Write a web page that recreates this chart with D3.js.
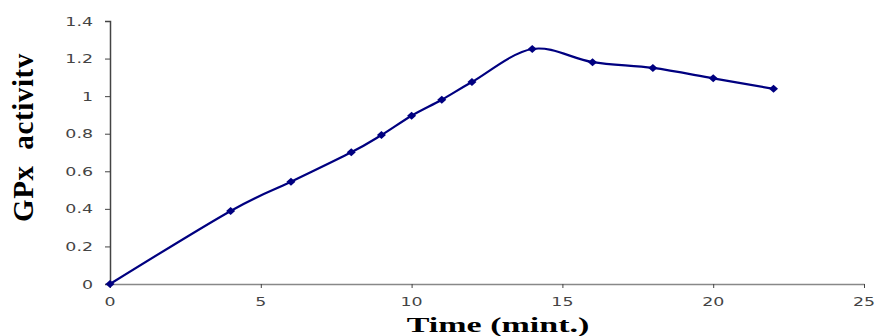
<!DOCTYPE html>
<html><head><meta charset="utf-8">
<script src="https://cdn.jsdelivr.net/npm/d3@7"></script>
<style>body{margin:0;background:#fff}svg{display:block}</style>
</head><body>
<svg id="c" width="876" height="336"></svg>
<script>
const times = [0, 4, 6, 8, 9, 10, 11, 12, 14, 16, 18, 20, 22];
const activity = [0, 0.389, 0.544, 0.701, 0.793, 0.896, 0.981, 1.075, 1.251, 1.181, 1.150, 1.095, 1.039];
const xTicks = [0, 5, 10, 15, 20, 25];
const yTicks = [0, 0.2, 0.4, 0.6, 0.8, 1, 1.2, 1.4];
const xTitle = "Time (mint.)";
const yTitle = "GPx  activitv";

const svg = d3.select("#c");
const x = d3.scaleLinear().domain([0, 25]).range([110, 864]);
const y = d3.scaleLinear().domain([0, 1.4]).range([284, 21]);

// y axis
const ya = svg.append("g").attr("transform", "translate(110,0)")
  .call(d3.axisLeft(y).tickValues(yTicks).tickSize(5).tickFormat(""));
ya.select(".domain").attr("stroke", "#444").attr("stroke-width", 1.5);
ya.selectAll(".tick line").attr("stroke", "#444");
// x axis
const xa = svg.append("g").attr("transform", "translate(0,284)")
  .call(d3.axisBottom(x).tickValues(xTicks).tickSize(4).tickSizeOuter(0).tickFormat(""));
xa.select(".domain").attr("stroke", "#888").attr("stroke-width", 1.5);
xa.selectAll(".tick line").attr("stroke", "#444");

// tick labels (wide face)
svg.append("g").selectAll("text").data(yTicks).join("text")
  .attr("transform", d => `translate(93,${y(d) + 4.5}) scale(1.45,1)`)
  .attr("text-anchor", "end")
  .attr("font-family", "DejaVu Sans").attr("font-size", 12).attr("fill", "#444")
  .text(d => d3.format("")(+d.toFixed(1)));
svg.append("g").selectAll("text").data(xTicks).join("text")
  .attr("transform", d => `translate(${x(d)},306) scale(1.45,1)`)
  .attr("text-anchor", "middle")
  .attr("font-family", "DejaVu Sans").attr("font-size", 12).attr("fill", "#444")
  .text(d => d);

// line
const data = times.map((t, i) => [t, activity[i]]);
svg.append("path").datum(data)
  .attr("fill", "none").attr("stroke", "#000080").attr("stroke-width", 2.2)
  .attr("d", d3.line().x(d => x(d[0])).y(d => y(d[1])).curve(d3.curveCatmullRom.alpha(0)));

svg.append("g").selectAll("path").data(data).join("path")
  .attr("transform", d => `translate(${x(d[0])},${y(d[1])})`)
  .attr("d", "M0,-4L4.5,0L0,4L-4.5,0Z")
  .attr("fill", "#000080");

// titles
svg.append("text").attr("transform", "translate(498,332) scale(1.62,1)").attr("text-anchor", "middle")
  .attr("font-family", "Liberation Serif").attr("font-weight", "bold").attr("font-size", 21)
  .text(xTitle);
svg.append("text").attr("transform", "translate(33,137.5) rotate(-90)").attr("text-anchor", "middle")
  .attr("font-family", "Liberation Serif").attr("font-weight", "bold").attr("font-size", 29)
  .attr("letter-spacing", 0.6)
  .style("white-space", "pre").text(yTitle);
</script>
</body></html>
